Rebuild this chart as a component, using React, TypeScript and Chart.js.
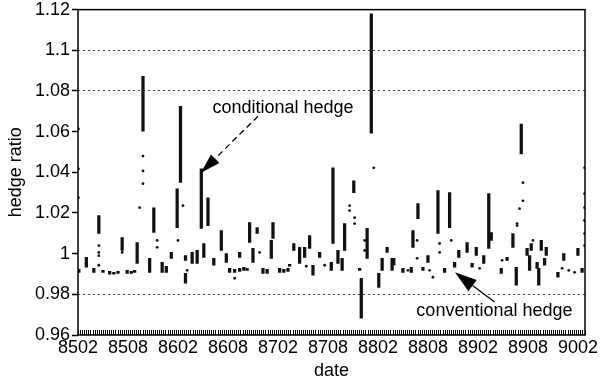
import React, { useEffect, useRef } from 'react';
import { Chart, registerables } from 'chart.js';

Chart.register(...registerables);

// x values are months counted from 8502 (Feb 1985)
const tickLabels = ['8502', '8508', '8602', '8608', '8702', '8708', '8802', '8808', '8902', '8908', '9002'];
const yTickValues = [0.96, 0.98, 1, 1.02, 1.04, 1.06, 1.08, 1.1, 1.12];
const dottedLevels = [1.1, 1.08, 0.98];

// vertical runs of the hedge ratio (month, high, low)
const segMonth = [
  0.1, 1.0, 1.9, 2.5, 3.0, 3.8, 4.3, 4.8, 5.3, 5.9, 6.4, 6.8, 7.1, 7.8, 8.6, 9.1, 10.1, 10.6, 11.2, 11.9,
  12.3, 12.9, 12.9, 13.7, 14.3, 14.8, 15.1, 15.6, 16.3, 17.2, 17.8, 18.2, 18.8, 19.4, 19.4, 19.9, 20.3, 20.6, 21.0, 21.5,
  22.2, 22.7, 23.2, 23.4, 24.2, 24.7, 25.2, 25.4, 25.9, 26.6, 27.2, 27.8, 28.2, 29.0, 30.4, 30.6, 31.2, 31.7, 32.0, 33.1,
  33.8, 34.0, 34.7, 35.2, 36.1, 36.5, 37.1, 37.7, 37.9, 39.0, 40.0, 40.2, 40.8, 41.4, 42.0, 43.2, 44.0, 44.6, 45.2, 45.7,
  46.7, 47.3, 47.8, 48.7, 49.3, 49.6, 50.8, 51.5, 52.2, 52.6, 53.2, 53.9, 54.2, 54.4, 55.1, 55.3, 55.6, 56.0, 56.2, 57.6,
  58.3, 60.0, 60.5,
];
const segHigh = [
  0.9923, 0.9982, 0.9928, 1.0187, 0.9918, 0.9913, 0.9908, 0.9913, 1.0079, 0.9918, 0.9913, 0.9918, 1.0055, 1.0872, 0.9977, 1.0226, 0.9957, 0.9938, 1.0006, 1.0319,
  1.0725, 0.9991, 0.9903, 1.0006, 1.0016, 1.0417, 1.005, 1.0275, 0.9977, 1.0114, 1.0001, 0.9928, 0.9923, 1.0006, 0.9928, 0.9933, 0.9928, 1.0153, 1.0026, 1.0128,
  0.9928, 0.9923, 1.0065, 1.0153, 0.9928, 0.9923, 0.9928, 0.9947, 1.005, 1.0031, 1.0031, 1.0089, 0.9943, 1.0006, 0.9957, 1.0422, 1.0016, 0.9977, 1.0148, 1.0358,
  0.9928, 0.9879, 1.0124, 1.118, 0.9903, 0.9977, 1.0031, 0.9977, 0.9977, 0.9928, 0.9933, 1.0114, 1.0246, 0.9933, 0.9991, 1.031, 0.9928, 1.03, 0.9957, 1.0016,
  1.0055, 0.9952, 1.0031, 0.9991, 1.0295, 1.0104, 0.9928, 0.9982, 1.0099, 0.9933, 1.0637, 1.0026, 0.9991, 1.005, 0.9957, 0.9928, 1.0065, 0.9977, 1.0031, 0.9908,
  1.0001, 1.0026, 0.9928,
];
const segLow = [
  0.9908, 0.9933, 0.9908, 1.0099, 0.9908, 0.9899, 0.9899, 0.9903, 1.0016, 0.9903, 0.9903, 0.9908, 0.9952, 1.0603, 0.9908, 1.0104, 0.9908, 0.9908, 0.9977, 1.0128,
  1.035, 0.9967, 0.9855, 0.9952, 0.9952, 1.0124, 0.9982, 1.0138, 0.9943, 1.0016, 0.9957, 0.9908, 0.9908, 0.9982, 0.9913, 0.9918, 0.9918, 1.0055, 0.9957, 1.0099,
  0.9903, 0.9903, 0.9977, 1.0075, 0.9908, 0.9908, 0.9913, 0.9938, 1.0016, 0.9952, 0.9982, 1.0026, 0.9894, 0.9982, 0.9918, 1.005, 0.9952, 0.9918, 1.0016, 1.03,
  0.9918, 0.9683, 0.9977, 1.0593, 0.9834, 0.9918, 1.0006, 0.9918, 0.9943, 0.9908, 0.9908, 1.0031, 1.0172, 0.9918, 0.9957, 1.0099, 0.9908, 1.0128, 0.9933, 0.9982,
  1.0006, 0.9933, 0.9991, 0.9952, 1.0026, 1.0065, 0.9903, 0.9967, 1.0031, 0.9845, 1.049, 0.9991, 0.9918, 1.0016, 0.9928, 0.9845, 1.0016, 0.9943, 0.9991, 0.9884,
  0.9967, 0.9991, 0.9908,
];

// isolated daily observations
const dotMonth = [
  0.05, 0.05, 0.05, 2.5, 2.5, 2.5, 2.5, 5.3, 7.4, 7.8, 7.8, 7.8, 9.5, 9.5, 12.0, 12.6, 13.1, 18.8, 21.8, 27.4,
  29.6, 32.6, 32.6, 33.2, 33.2, 34.4, 34.4, 35.5, 39.6, 40.7, 40.7, 42.2, 42.6, 43.4, 43.4, 44.8, 48.2, 50.9, 52.7, 52.7,
  53.0, 53.4, 53.4, 54.6, 58.1, 58.9, 59.6, 60.8, 60.8, 60.8, 60.8, 60.8, 60.8,
];
const dotValue = [
  1.0613, 1.0417, 1.0275, 1.004, 1.0006, 0.999, 0.9943, 1.0006, 1.0226, 1.048, 1.0407, 1.0344, 1.0065, 1.0031, 1.0065, 1.0236, 0.9918, 0.9879, 1.0006, 0.9938,
  0.9943, 1.0236, 1.0212, 1.0177, 1.0148, 1.0065, 1.0016, 1.0422, 0.9918, 1.0065, 0.9977, 0.9918, 0.9884, 1.005, 1.0006, 1.0065, 0.9928, 0.9967, 1.0148, 1.0138,
  1.0221, 1.026, 1.0349, 1.0065, 0.9928, 0.9918, 0.9908, 1.0422, 1.0295, 1.0226, 1.0163, 1.0099, 1.004,
];

const FONT = '"Liberation Sans", Arial, Helvetica, sans-serif';

function drawArrow(ctx: CanvasRenderingContext2D, a: number[], b: number[], hl: number, hw: number, dash: number[]) {
  const [x1, y1] = a;
  const [x2, y2] = b;
  const ang = Math.atan2(y2 - y1, x2 - x1);
  const bx = x2 - hl * Math.cos(ang);
  const by = y2 - hl * Math.sin(ang);
  ctx.setLineDash(dash);
  ctx.lineWidth = 1.3;
  ctx.beginPath();
  ctx.moveTo(x1, y1);
  ctx.lineTo(bx, by);
  ctx.stroke();
  ctx.setLineDash([]);
  ctx.beginPath();
  ctx.moveTo(x2, y2);
  ctx.lineTo(bx + (hw / 2) * Math.sin(ang), by - (hw / 2) * Math.cos(ang));
  ctx.lineTo(bx - (hw / 2) * Math.sin(ang), by + (hw / 2) * Math.cos(ang));
  ctx.closePath();
  ctx.fill();
}

export default function App() {
  const ref = useRef<HTMLCanvasElement>(null);

  useEffect(() => {
    const frame = {
      id: 'frame',
      afterDraw(chart: any) {
        const { ctx, chartArea: a } = chart;
        ctx.save();
        ctx.strokeStyle = '#000';
        ctx.lineWidth = 1.5;
        ctx.strokeRect(a.left, a.top, a.right - a.left, a.bottom - a.top);
        const xs = chart.scales.x;
        ctx.lineWidth = 1;
        ctx.beginPath();
        for (const t of xs.ticks) {
          const px = Math.round(xs.getPixelForValue(t.value)) + 0.5;
          ctx.moveTo(px, a.bottom);
          ctx.lineTo(px, a.bottom - 5);
        }
        ctx.stroke();
        ctx.restore();
      },
    };

    const notes = {
      id: 'notes',
      afterDraw(chart: any) {
        const { ctx } = chart;
        const xs = chart.scales.x;
        const ys = chart.scales.y;
        const P = (m: number, v: number) => [xs.getPixelForValue(m), ys.getPixelForValue(v)];
        ctx.save();
        ctx.fillStyle = '#000';
        ctx.strokeStyle = '#000';
        ctx.font = `18px ${FONT}`;
        ctx.textAlign = 'center';
        ctx.textBaseline = 'middle';
        const c = P(24.6, 1.0716);
        ctx.fillText('conditional hedge', c[0], c[1]);
        const v = P(49.98, 0.9717);
        ctx.fillText('conventional hedge', v[0], v[1]);
        drawArrow(ctx, P(21.6, 1.0676), P(14.76, 1.0398), 20, 12, [6, 4]);
        drawArrow(ctx, P(50.0, 0.9762), P(45.24, 0.9908), 22, 14, []);
        ctx.restore();
      },
    };

    const chart = new Chart(ref.current as HTMLCanvasElement, {
      type: 'bar',
      data: {
        datasets: [
          {
            type: 'bar',
            label: 'conditional hedge',
            data: segMonth.map((m, i) => ({ x: m, y: [segLow[i], segHigh[i]] })) as any,
            backgroundColor: '#111',
            borderWidth: 0,
            barThickness: 2.6,
          } as any,
          {
            type: 'scatter',
            label: 'observations',
            data: dotMonth.map((m, i) => ({ x: m, y: dotValue[i] })),
            backgroundColor: '#111',
            borderWidth: 0,
            pointRadius: 1.4,
          } as any,
        ],
      },
      options: {
        responsive: false,
        animation: false,
        events: [],
        layout: { padding: { top: 8, right: 17, left: 0, bottom: 0 } },
        plugins: { legend: { display: false }, tooltip: { enabled: false } },
        scales: {
          x: {
            type: 'linear',
            min: 0,
            max: 60.85,
            offset: false,
            grid: { display: true, drawOnChartArea: false, drawTicks: false, color: 'transparent' },
            border: { display: false },
            ticks: {
              stepSize: 0.25,
              autoSkip: false,
              maxRotation: 0,
              padding: 2,
              color: '#000',
              font: { family: FONT, size: 18 },
              callback: (val: any) => {
                const v = Number(val);
                const i = Math.round(v / 6);
                if (Math.abs(v - i * 6) < 1e-6 && i < tickLabels.length) return tickLabels[i];
                return '';
              },
            },
            title: {
              display: true,
              text: 'date',
              color: '#000',
              font: { family: FONT, size: 18 },
              padding: { top: 0, bottom: 0 },
            },
            afterFit: (s: any) => {
              s.height = 47;
            },
          },
          y: {
            type: 'linear',
            min: 0.96,
            max: 1.12,
            grid: {
              color: (ctx: any) =>
                ctx.tick && dottedLevels.some((l) => Math.abs(ctx.tick.value - l) < 1e-6) ? '#444' : 'transparent',
              tickColor: '#000',
              tickLength: 6,
              tickWidth: 1.5,
              lineWidth: 1,
            },
            border: { display: false, dash: [2, 3] },
            afterBuildTicks: (s: any) => {
              s.ticks = yTickValues.map((v) => ({ value: v }));
            },
            ticks: {
              padding: 2,
              color: '#000',
              font: { family: FONT, size: 18, lineHeight: 0.85 },
              callback: (val: any) => String(Number(Number(val).toFixed(2))),
            },
            title: {
              display: true,
              text: 'hedge ratio',
              color: '#000',
              font: { family: FONT, size: 18 },
              padding: { top: 5, bottom: 0 },
            },
            afterFit: (s: any) => {
              s.width = 78;
            },
          },
        },
      },
      plugins: [frame, notes],
    });
    return () => chart.destroy();
  }, []);

  return (
    <div style={{ position: 'absolute', left: 0, top: 0, width: 602, height: 382, background: '#fff' }}>
      <canvas ref={ref} width={602} height={382} style={{ display: 'block' }} />
    </div>
  );
}
